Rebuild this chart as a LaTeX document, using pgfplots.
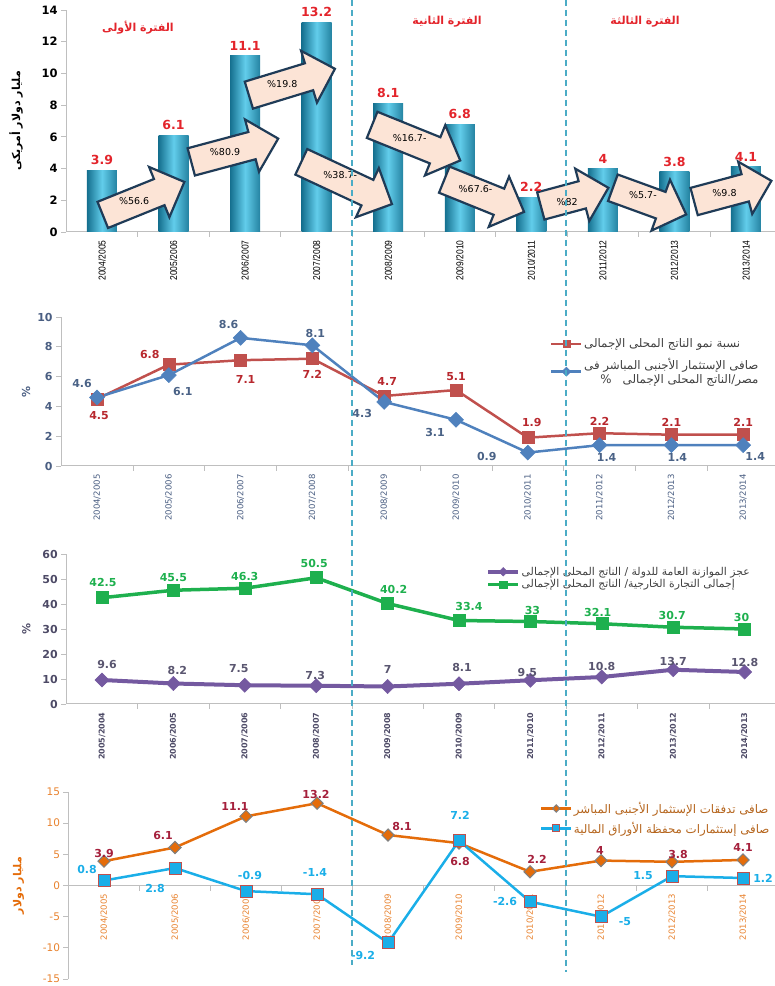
\documentclass[border=0pt]{standalone}
\usepackage{fontspec}
\usepackage{pgfplots}
\usepackage{pgfplotstable}
\pgfplotsset{compat=1.18}
\usetikzlibrary{shapes.arrows}
\setmainfont{DejaVu Sans}
\newfontfamily\arabicfont[Script=Arabic]{DejaVu Sans}
\newfontfamily\narrowfont[FakeStretch=0.85]{Liberation Sans}
\TeXXeTstate=1
\definecolor{axgray}{HTML}{BFBFBF}
\definecolor{bardark}{HTML}{15708F}
\definecolor{barlight}{HTML}{62CDEB}
\definecolor{lab1}{HTML}{E3242B}
\definecolor{titlered}{HTML}{E3242B}
\definecolor{arrowf}{HTML}{FCE4D6}
\definecolor{arrowb}{HTML}{1F3B57}
\definecolor{red2}{HTML}{C0504D}
\definecolor{redlab}{HTML}{B8282E}
\definecolor{blue2}{HTML}{4F81BD}
\definecolor{bluelab}{HTML}{4A6286}
\definecolor{slate}{HTML}{4A5E82}
\definecolor{green3}{HTML}{1EB04E}
\definecolor{purple3}{HTML}{7459A0}
\definecolor{purplab}{HTML}{5A5670}
\definecolor{tick3}{HTML}{4D4A66}
\definecolor{orange4}{HTML}{E46C0A}
\definecolor{orlab}{HTML}{A5203C}
\definecolor{cyan4}{HTML}{1AAEE8}
\definecolor{tick4}{HTML}{E8822E}
\definecolor{leg4}{HTML}{B5651D}
\definecolor{leggray}{HTML}{404040}
\definecolor{dashc}{HTML}{4BACC6}
\pgfplotsset{/pgf/number format/assume math mode=true}
\tikzset{parr/.style={single arrow, draw=arrowb, fill=arrowf, line width=2.2pt,
  minimum height=#1, inner xsep=0pt, inner ysep=13pt, single arrow head extend=13pt},
  atxt/.style={font=\fontsize{9.5}{10}\selectfont}}
\pgfplotsset{
  lbl/.style={point meta=explicit symbolic, nodes near coords,
    visualization depends on={\thisrow{dx}\as\ldx},
    visualization depends on={\thisrow{dy}\as\ldy},
    every node near coord/.append style={anchor=center, xshift=\ldx pt, yshift=\ldy pt, font=\bfseries\fontsize{11}{12}\selectfont, text=#1}},
  myleg/.style={legend image code/.code={\draw[mark repeat=2,mark phase=2,##1, every mark/.append style={scale=0.6}] plot coordinates {(0pt,0pt) (15pt,0pt) (30pt,0pt)};}},
  barsty/.style={ybar, bar shift=0pt, bar width=30pt, draw=none, left color=bardark, right color=bardark!80!barlight, middle color=barlight,
    point meta=explicit symbolic, nodes near coords,
    every node near coord/.append style={text=lab1, font=\bfseries\fontsize{12.5}{13}\selectfont, anchor=south, yshift=2pt}},
}
\pgfplotstableread{
x y dx dy
0 4.5 2 -17
1 6.8 -19 10
2 7.1 5 -19
3 7.2 0 -16
4 4.7 3 14
5 5.1 0 13
6 1.9 4 15
7 2.2 0 12
8 2.1 0 12
9 2.1 0 12
}\redtwo
\pgfplotstableread{
x y dx dy
0 4.6 -15 14
1 6.1 14 -16
2 8.6 -12 13
3 8.1 3 12
4 4.3 -22 -12
5 3.1 -21 -13
6 0.9 -41 -4
7 1.4 7 -12
8 1.4 6 -12
9 1.4 12 -11
}\bluetwo
\pgfplotstableread{
x y dx dy
0 42.5 1 15
1 45.5 0 13
2 46.3 0 12
3 50.5 -2 14
4 40.2 6 14
5 33.4 10 14
6 33 2 11
7 32.1 -4 11
8 30.7 -1 12
9 30 -3 12
}\greenthree
\pgfplotstableread{
x y dx dy
0 9.6 5 15
1 8.2 4 13
2 7.5 -6 17
3 7.3 -1 10
4 7 0 17
5 8.1 3 16
6 9.5 -3 8
7 10.8 0 11
8 13.7 0 8
9 12.8 0 10
}\purplethree
\pgfplotstableread{
x y dx dy
0 3.9 0 8
1 6.1 -12 12
2 11.1 -11 10
3 13.2 -1 9
4 8.1 14 9
5 6.8 1 -18
6 2.2 7 12
7 4 -1 10
8 3.8 6 7
9 4.1 0 12
}\orangefour
\pgfplotstableread{
x y dx dy
0 0.8 -17 11
1 2.8 -20 -20
2 -0.9 4 16
3 -1.4 -2 22
4 -9.2 -25 -13
5 7.2 1 25
6 -2.6 -25 0
7 -5 24 -5
8 1.5 -29 1
9 1.2 20 0
}\cyanfour
\begin{document}
\begin{tikzpicture}[x=1pt,y=1pt]
\useasboundingbox (0pt,0pt) rectangle (775pt,986pt);
% ---------- Panel 1 ----------
\begin{axis}[
  at={(66.2pt,754pt)}, anchor=south west,
  scale only axis, width=708.4pt, height=222pt,
  xmin=-0.5, xmax=9.4, ymin=0, ymax=14,
  axis lines*=left,
  axis line style={draw=axgray, line width=1pt},
  xtick={0,...,9},
  xticklabels={2004/2005,2005/2006,2006/2007,2007/2008,2008/2009,2009/2010,2010/2011,2011/2012,2012/2013,2013/2014},
  xticklabel style={rotate=90, anchor=east, font=\narrowfont\fontsize{10}{10}\selectfont, text=black},
  major x tick style={draw=none},
  minor xtick={0.5,1.5,...,8.5},
  minor x tick style={draw=axgray, line width=0.8pt},
  ytick={0,2,...,14},
  yticklabel style={font=\bfseries\fontsize{11.5}{12}\selectfont},
  y tick style={draw=axgray, line width=0.8pt},
  major tick length=5pt, minor tick length=5pt,
  tick align=outside,
  ylabel={{\arabicfont\beginR مليار دولار أمريكى\endR}},
  ylabel style={font=\bfseries\fontsize{11}{12}\selectfont, yshift=12pt},
  clip=false,
]
\addplot[barsty] coordinates {(0,3.9) [3.9]};
\addplot[barsty] coordinates {(1,6.1) [6.1]};
\addplot[barsty] coordinates {(2,11.1) [11.1]};
\addplot[barsty] coordinates {(3,13.2) [13.2]};
\addplot[barsty] coordinates {(4,8.1) [8.1]};
\addplot[barsty] coordinates {(5,6.8) [6.8]};
\addplot[barsty] coordinates {(6,2.2) [2.2]};
\addplot[barsty] coordinates {(7,4) [4]};
\addplot[barsty] coordinates {(8,3.8) [3.8]};
\addplot[barsty] coordinates {(9,4.1) [4.1]};
\node[parr=88pt, rotate=22] at (axis cs:0.49,1.95) {};
\node[atxt] at (axis cs:0.45,1.95) {\%56.6};
\node[parr=90pt, rotate=15] at (axis cs:1.76,5.04) {};
\node[atxt] at (axis cs:1.72,5.04) {\%80.9};
\node[parr=90pt, rotate=17] at (axis cs:2.56,9.33) {};
\node[atxt] at (axis cs:2.52,9.33) {\%19.8};
\node[parr=100pt, rotate=-25] at (axis cs:3.33,3.28) {};
\node[atxt] at (axis cs:3.33,3.6) {\%38.7-};
\node[parr=95pt, rotate=-22] at (axis cs:4.30,5.80) {};
\node[atxt] at (axis cs:4.30,5.9) {\%16.7-};
\node[parr=86pt, rotate=-22] at (axis cs:5.25,2.45) {};
\node[atxt] at (axis cs:5.22,2.7) {\%67.6-};
\node[parr=70pt, rotate=15] at (axis cs:6.51,2.1) {};
\node[atxt] at (axis cs:6.5,1.9) {\%82};
\node[parr=78pt, rotate=-20] at (axis cs:7.56,2.1) {};
\node[atxt] at (axis cs:7.56,2.3) {\%5.7-};
\node[parr=80pt, rotate=15] at (axis cs:8.72,2.46) {};
\node[atxt] at (axis cs:8.7,2.46) {\%9.8};
\end{axis}
% ---------- Panel 2 ----------
\begin{axis}[
  at={(61.1pt,520pt)}, anchor=south west,
  scale only axis, width=713.7pt, height=149pt,
  xmin=-0.5, xmax=9.44, ymin=0, ymax=10,
  axis lines*=left,
  axis line style={draw=axgray, line width=1pt},
  xtick={0,...,9},
  xticklabels={2004/2005,2005/2006,2006/2007,2007/2008,2008/2009,2009/2010,2010/2011,2011/2012,2012/2013,2013/2014},
  xticklabel style={rotate=90, anchor=east, font=\fontsize{8.5}{9}\selectfont, text=slate},
  major x tick style={draw=none},
  minor xtick={0.5,1.5,...,8.5},
  minor x tick style={draw=axgray, line width=0.8pt},
  ytick={0,2,...,10},
  yticklabel style={font=\bfseries\fontsize{11}{12}\selectfont, text=slate},
  y tick style={draw=axgray, line width=0.8pt},
  major tick length=5pt, minor tick length=5pt,
  tick align=outside,
  ylabel={\%}, ylabel style={font=\bfseries\fontsize{11}{12}\selectfont, text=slate},
  clip=false, myleg,
  legend style={at={(0.685,0.865)}, anchor=north west, draw=none, fill=none,
    font=\fontsize{11.8}{14}\selectfont, text=leggray, row sep=6pt, inner sep=0pt,
    nodes={align=right, inner sep=1.5pt}},
  legend cell align=left,
]
\addplot[color=red2, line width=2.5pt, mark=square*, mark size=6pt,
  mark options={fill=red2, draw=red2, line width=0.5pt}, lbl=redlab]
  table[x=x,y=y,meta=y]{\redtwo};
\addlegendentry{{\arabicfont\beginR نسبة نمو الناتج المحلى الإجمالى\endR}\rule[-9pt]{0pt}{9pt}}
\addplot[color=blue2, line width=2.5pt, mark=square*, mark size=5.3pt,
  mark options={fill=blue2, draw=blue2, line width=0.5pt, rotate=45}, lbl=bluelab]
  table[x=x,y=y,meta=y]{\bluetwo};
\addlegendentry{{\arabicfont\beginR صافى الإستثمار الأجنبى المباشر فى\endR}\\{\arabicfont\beginR مصر/الناتج المحلى الإجمالى~~~\%\endR}}
\end{axis}
% ---------- Panel 3 ----------
\begin{axis}[
  at={(66.3pt,282pt)}, anchor=south west,
  scale only axis, width=709pt, height=150pt,
  xmin=-0.5, xmax=9.43, ymin=0, ymax=60,
  axis lines*=left,
  axis line style={draw=axgray, line width=1pt},
  xtick={0,...,9},
  xticklabels={2005/2004,2006/2005,2007/2006,2008/2007,2009/2008,2010/2009,2011/2010,2012/2011,2013/2012,2014/2013},
  xticklabel style={rotate=90, anchor=east, font=\bfseries\fontsize{8}{9}\selectfont, text=tick3},
  major x tick style={draw=none},
  minor xtick={0.5,1.5,...,8.5},
  minor x tick style={draw=axgray, line width=0.8pt},
  ytick={0,10,...,60},
  yticklabel style={font=\bfseries\fontsize{11}{12}\selectfont, text=tick3},
  y tick style={draw=axgray, line width=0.8pt},
  major tick length=5pt, minor tick length=5pt,
  tick align=outside,
  ylabel={\%}, ylabel style={font=\bfseries\fontsize{11}{12}\selectfont, text=tick3, yshift=5pt},
  clip=false, myleg,
  legend style={at={(0.592,0.925)}, anchor=north west, draw=none, fill=none,
    font=\fontsize{10.8}{12}\selectfont, text=leggray, row sep=0pt, inner sep=0pt,
    nodes={inner sep=1.5pt}},
  legend cell align=left,
]
\addplot[color=purple3, line width=4pt, mark=square*, mark size=5pt,
  mark options={fill=purple3, draw=purple3, line width=0.5pt, rotate=45}, lbl=purplab]
  table[x=x,y=y,meta=y]{\purplethree};
\addlegendentry{{\arabicfont\beginR عجز الموازنة العامة للدولة / الناتج المحلى الإجمالى\endR}}
\addplot[color=green3, line width=3.5pt, mark=square*, mark size=6pt,
  mark options={fill=green3, draw=green3, line width=0.5pt}, lbl=green3]
  table[x=x,y=y,meta=y]{\greenthree};
\addlegendentry{{\arabicfont\beginR إجمالى التجارة الخارجية/ الناتج المحلى الإجمالى\endR}}
\end{axis}
% ---------- Panel 4 ----------
\begin{axis}[
  at={(68.5pt,7pt)}, anchor=south west,
  scale only axis, width=706.5pt, height=187pt,
  xmin=-0.5, xmax=9.45, ymin=-15, ymax=15,
  axis x line*=middle, axis y line*=left,
  axis line style={draw=axgray, line width=1pt},
  xtick={0,...,9},
  xticklabels={2004/2005,2005/2006,2006/2007,2007/2008,2008/2009,2009/2010,2010/2011,2011/2012,2012/2013,2013/2014},
  xticklabel style={rotate=90, anchor=east, font=\fontsize{8.5}{9}\selectfont, text=tick4},
  major x tick style={draw=none},
  minor xtick={0.5,1.5,...,8.5},
  minor x tick style={draw=axgray, line width=0.8pt},
  ytick={-15,-10,...,15},
  yticklabel style={font=\fontsize{10.5}{12}\selectfont, text=tick4},
  y tick style={draw=axgray, line width=0.8pt},
  major tick length=5pt, minor tick length=5pt,
  tick align=outside,
  ylabel={{\arabicfont\beginR مليار دولار\endR}}, ylabel style={font=\bfseries\fontsize{11}{12}\selectfont, text=orange4, yshift=12pt},
  clip=false, myleg,
  legend style={at={(0.667,0.955)}, anchor=north west, draw=none, fill=none,
    font=\fontsize{11.8}{13}\selectfont, text=leg4, row sep=4pt, inner sep=0pt,
    nodes={inner sep=1.5pt}},
  legend cell align=left,
]
\addplot[color=orange4, line width=2.5pt, mark=square*, mark size=4.3pt,
  mark options={fill=orange4, draw=gray, line width=1pt, rotate=45}, lbl=orlab]
  table[x=x,y=y,meta=y]{\orangefour};
\addlegendentry{{\arabicfont\beginR صافى تدفقات الإستثمار الأجنبى المباشر\endR}}
\addplot[color=cyan4, line width=2.5pt, mark=square*, mark size=6pt,
  mark options={fill=cyan4, draw=red2, line width=1pt}, lbl=cyan4]
  table[x=x,y=y,meta=y]{\cyanfour};
\addlegendentry{{\arabicfont\beginR صافى إستثمارات محفظة الأوراق المالية\endR}}
\end{axis}
% ---------- titles and dividers ----------
\node[text=titlered, font=\bfseries\fontsize{11}{12}\selectfont] at (138pt,958pt) {{\arabicfont\beginR الفترة الأولى\endR}};
\node[text=titlered, font=\bfseries\fontsize{11}{12}\selectfont] at (447pt,964pt) {{\arabicfont\beginR الفترة الثانية\endR}};
\node[text=titlered, font=\bfseries\fontsize{11}{12}\selectfont] at (645pt,964pt) {{\arabicfont\beginR الفترة الثالثة\endR}};
\draw[dashc, line width=1.2pt, dash pattern=on 6pt off 4pt] (352pt,986pt) -- (352pt,21pt);
\draw[dashc, line width=1.2pt, dash pattern=on 6pt off 4pt] (566pt,986pt) -- (566pt,14pt);
\end{tikzpicture}
\end{document}
